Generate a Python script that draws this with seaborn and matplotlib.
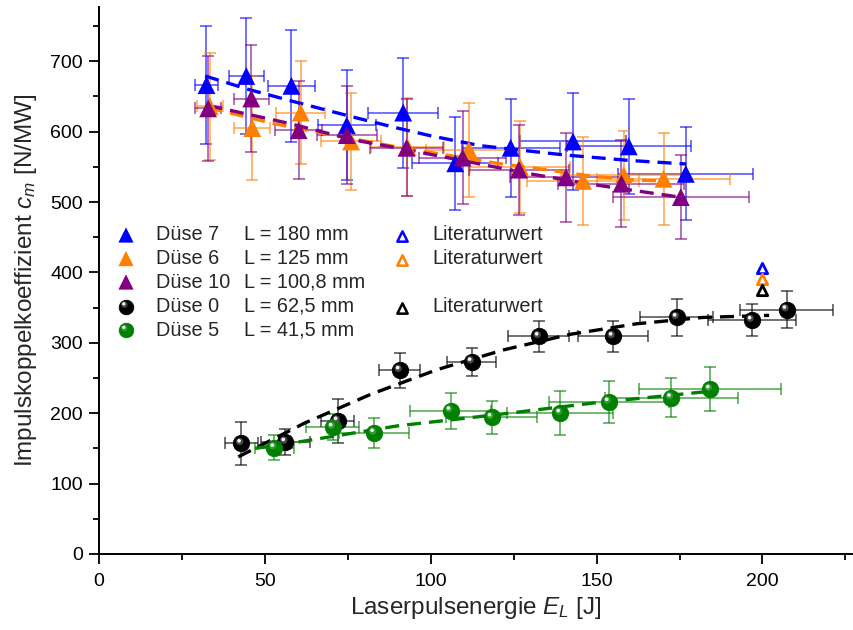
import numpy as np
import pandas as pd
import matplotlib
matplotlib.use("Agg")
import matplotlib.pyplot as plt
from matplotlib.transforms import offset_copy
from matplotlib.ticker import MultipleLocator
import seaborn as sns

# ---------------- data ----------------
series_names = ["Düse 7", "Düse 6", "Düse 10", "Düse 0", "Düse 5"]
series_lengths = ["L = 180 mm", "L = 125 mm", "L = 100,8 mm", "L = 62,5 mm", "L = 41,5 mm"]

d7_x = [32.4, 44.4, 58.0, 74.7, 91.7, 107.4, 124.1, 142.9, 159.7, 176.9]
d7_y = [666, 679, 665, 609, 627, 555, 577, 586, 579, 540]
d7_yerr = [84, 83, 80, 78, 78, 66, 70, 69, 68, 66]
d7_xerr = [3.5, 5.3, 7.2, 8.8, 10.6, 12.9, 14.8, 16.0, 18.7, 20.4]

d6_x = [33.4, 46.2, 60.8, 76.0, 93.0, 111.5, 126.9, 145.9, 158.2, 170.2]
d6_y = [636, 605, 627, 586, 578, 574, 550, 530, 538, 533]
d6_yerr = [76, 74, 73, 69, 70, 67, 65, 62, 63, 65]
d6_xerr = [4.0, 5.4, 7.3, 9.0, 11.0, 13.0, 15.0, 17.0, 19.0, 20.0]

d10_x = [32.9, 45.9, 60.2, 74.7, 92.7, 109.6, 126.6, 140.8, 157.5, 175.4]
d10_y = [633, 647, 602, 595, 577, 563, 546, 535, 526, 507]
d10_yerr = [75, 76, 70, 70, 69, 66, 64, 63, 62, 60]
d10_xerr = [4.0, 5.2, 7.0, 9.0, 11.0, 13.0, 15.0, 17.0, 19.0, 20.5]

d0_x = [42.9, 56.2, 72.0, 90.7, 112.4, 132.6, 154.9, 174.2, 196.8, 207.3]
d0_y = [157, 159, 189, 261, 273, 309, 309, 336, 332, 347]
d0_yerr = [30, 19, 31, 25, 20, 22, 21.5, 26, 23, 26]
d0_xerr = [5.0, 7.4, 5.0, 6.2, 7.4, 9.2, 10.5, 11.0, 13.3, 14.0]

d5_x = [52.9, 70.5, 83.0, 106.0, 118.4, 139.1, 153.7, 172.5, 184.2]
d5_y = [151, 180, 172, 203.5, 194, 200, 216, 222, 234]
d5_yerr = [18, 18.5, 21, 25.5, 23, 31, 30, 28, 31]
d5_xerr = [6.0, 8.0, 10.6, 12.3, 13.7, 16.0, 18.0, 20.0, 21.3]

# fitted trend lines
d7_fit_x = [32, 45, 60, 78, 90, 100, 115, 140, 160, 177]
d7_fit_y = [679, 660, 641, 619, 605, 594, 580, 567, 559, 554]
d6_fit_x = [33, 52, 65, 90, 120, 136, 148, 162, 171]
d6_fit_y = [634, 612, 600, 578, 555, 545, 537, 531, 530]
d10_fit_x = [33, 57, 77, 93, 105, 130, 150, 175]
d10_fit_y = [637, 612, 588, 574, 563, 540, 524, 507]
d0_fit_x = [42, 62, 82, 102, 122, 142, 162, 182, 202]
d0_fit_y = [138, 186, 227, 262, 290, 312, 327, 336, 339]
d5_fit_x = [47, 60, 90, 120, 150, 184]
d5_fit_y = [150, 159, 182, 198, 215, 231]

# literature values
lit_label = "Literaturwert"
lit_x = [200, 200, 200]
lit_y = [406, 390, 375]

x_ticks = [0, 50, 100, 150, 200]
y_ticks = [0, 100, 200, 300, 400, 500, 600, 700]

# ---------------- style ----------------
sns.set_style("ticks")
plt.rcParams["font.family"] = ["Liberation Sans", "DejaVu Sans"]
plt.rcParams["mathtext.fontset"] = "custom"
plt.rcParams["mathtext.rm"] = "Liberation Sans"
plt.rcParams["mathtext.it"] = "Liberation Sans:italic"

BLUE = "#0000FF"
ORANGE = "#FF8000"
PURPLE = "#800080"
BLACK = "#000000"
GREEN = "#008000"

fig = plt.figure(figsize=(8.54, 6.30), dpi=100)
ax = fig.add_axes([99 / 854, 76 / 630, 753 / 854, 547 / 630])

dash = (0, (4.2, 2.4))

def draw_spheres(a, x, y, color, s=140, trans=None):
    t = a.transData if trans is None else trans
    mid = "#5a5a5a" if color == BLACK else "#40a040"
    sns.scatterplot(x=x, y=y, ax=a, color=color, s=s, edgecolor=color,
                    linewidth=0.6, zorder=4, transform=t, legend=False)
    sns.scatterplot(x=x, y=y, ax=a, color=mid, s=s * 0.2, edgecolor="none",
                    linewidth=0, zorder=4.1, alpha=0.8, legend=False,
                    transform=offset_copy(t, fig=fig, x=-1.2, y=1.4, units="points"))
    sns.scatterplot(x=x, y=y, ax=a, color="#f4f4f4", s=s * 0.05, edgecolor="none",
                    linewidth=0, zorder=4.2, legend=False,
                    transform=offset_copy(t, fig=fig, x=-1.6, y=1.9, units="points"))

def add_series(x, y, xerr, yerr, color, fx, fy, sphere=False):
    ax.errorbar(x, y, xerr=xerr, yerr=yerr, fmt="none", ecolor=color,
                elinewidth=1.2, capsize=4, capthick=1.2, alpha=0.65, zorder=2)
    sns.lineplot(x=fx, y=fy, ax=ax, color=color, lw=2.4, linestyle=dash,
                 sort=False, estimator=None, zorder=3)
    if sphere:
        draw_spheres(ax, x, y, color)
    else:
        sns.scatterplot(x=x, y=y, ax=ax, color=color, marker="^", s=165,
                        edgecolor="none", linewidth=0, zorder=4, legend=False)

add_series(d7_x, d7_y, d7_xerr, d7_yerr, BLUE, d7_fit_x, d7_fit_y)
add_series(d6_x, d6_y, d6_xerr, d6_yerr, ORANGE, d6_fit_x, d6_fit_y)
add_series(d10_x, d10_y, d10_xerr, d10_yerr, PURPLE, d10_fit_x, d10_fit_y)
add_series(d0_x, d0_y, d0_xerr, d0_yerr, BLACK, d0_fit_x, d0_fit_y, sphere=True)
add_series(d5_x, d5_y, d5_xerr, d5_yerr, GREEN, d5_fit_x, d5_fit_y, sphere=True)

lit_colors = [BLUE, ORANGE, BLACK]
for lx, ly, lc in zip(lit_x, lit_y, lit_colors):
    sns.scatterplot(x=[lx], y=[ly], ax=ax, marker="^", s=55, facecolor="white",
                    edgecolor=lc, linewidth=2.0, zorder=5, legend=False)

# ---------------- axes ----------------
ax.set_xlim(0, 227)
ax.set_ylim(0, 777)
ax.set_xticks(x_ticks)
ax.set_yticks(y_ticks)
ax.xaxis.set_minor_locator(MultipleLocator(25))
ax.yaxis.set_minor_locator(MultipleLocator(50))
ax.tick_params(axis="both", which="major", direction="out", length=7.5, width=1.3,
               labelsize=14, pad=4, color="black", labelcolor="black")
ax.tick_params(axis="both", which="minor", direction="out", length=4, width=1.3,
               color="black")
ax.tick_params(axis="x", which="major", pad=6)
for side in ["left", "bottom"]:
    ax.spines[side].set_linewidth(1.4)
    ax.spines[side].set_color("black")
sns.despine(ax=ax, top=True, right=True)
ax.set_xlabel("Laserpulsenergie $E_L$ [J]", fontsize=17.5, labelpad=4)
ax.set_ylabel("Impulskoppelkoeffizient $c_m$ [N/MW]", fontsize=17.5, labelpad=8)

# ---------------- legend (manual) ----------------
def ax_frac(px, py):
    return (px - 99) / 753, (554 - py) / 547

rows_py = [235, 258.5, 282, 306.5, 330]
tri_colors = [BLUE, ORANGE, PURPLE]
for i, (name, length) in enumerate(zip(series_names, series_lengths)):
    mx, my = ax_frac(126, rows_py[i])
    if i < 3:
        ax.scatter([mx], [my], transform=ax.transAxes, marker="^", s=120,
                   color=tri_colors[i], edgecolor="none", zorder=6, clip_on=False)
    else:
        draw_spheres(ax, [mx], [my], BLACK if i == 3 else GREEN, s=110,
                     trans=ax.transAxes)
    tx, ty = ax_frac(156, rows_py[i])
    ax.text(tx, ty, name, transform=ax.transAxes, fontsize=14.3, va="center", ha="left")
    lx_, ly_ = ax_frac(244, rows_py[i])
    ax.text(lx_, ly_, length, transform=ax.transAxes, fontsize=14.3, va="center", ha="left")

for row, lc in zip([0, 1, 3], lit_colors):
    mx, my = ax_frac(402, rows_py[row] + 1)
    ax.scatter([mx], [my], transform=ax.transAxes, marker="^", s=55,
               facecolor="white", edgecolor=lc, linewidth=1.8, zorder=6)
    tx, ty = ax_frac(432, rows_py[row])
    ax.text(tx, ty, lit_label, transform=ax.transAxes, fontsize=14.3, va="center", ha="left")

fig.savefig("out.png", dpi=100, facecolor="white")
